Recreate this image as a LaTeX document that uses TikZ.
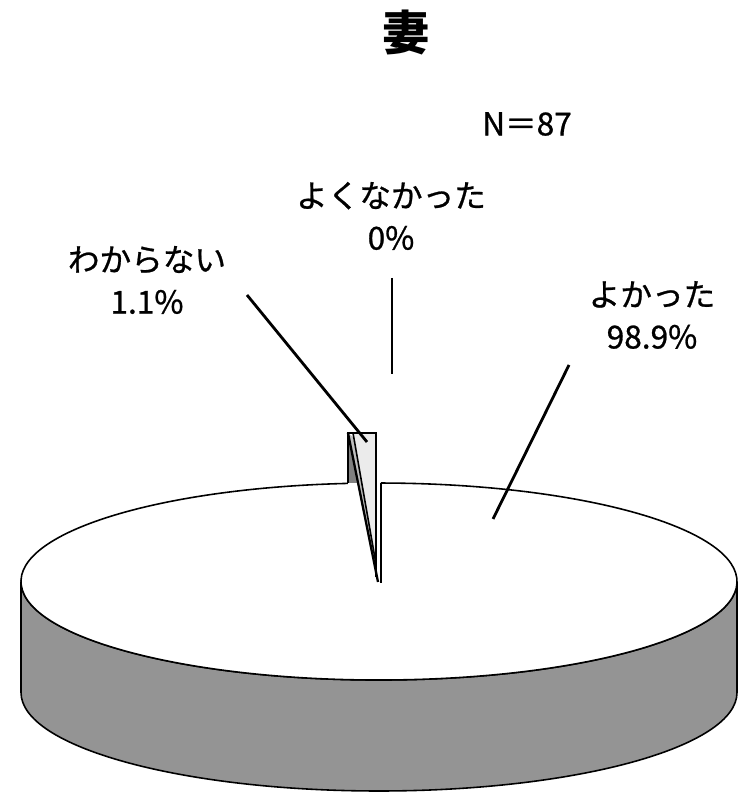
\documentclass[tikz,border=0pt]{standalone}
\usepackage{fontspec}
\setmainfont{Noto Sans CJK JP}
\newfontfamily\labelfont{Noto Sans CJK JP}[FakeBold=0.8]
\tikzset{
  pielabel/.style={align=center, inner sep=0pt, font=\labelfont\fontsize{18}{24}\selectfont},
  leader/.style={line width=1.6pt},
  edge/.style={line width=0.9pt}
}
\begin{document}
\begin{tikzpicture}[x=0.02cm, y=0.02cm]
% picture frame in pixels
\useasboundingbox (0,0) rectangle (745,794);
\def\rx{358}
\def\ry{98.5}
\coordinate (C) at (379,212.5);

% side of the pie
\filldraw[edge, fill=black!42] (21,212.5) -- (21,101.5)
  arc[start angle=180, end angle=360, x radius=\rx, y radius=\ry]
  -- (737,212.5)
  arc[start angle=0, end angle=-180, x radius=\rx, y radius=\ry] -- cycle;

% top of the pie, open where the small slice is cut out
\fill[white] (C) ellipse [x radius=\rx, y radius=\ry];
\draw[edge] (347.8,310.6) arc[start angle=95, end angle=449.7, x radius=\rx, y radius=\ry];

% the small slice (wakaranai)
\fill[black!50] (348,361) -- (348,311) -- (358,311) -- cycle;
\fill[black!25] (348,361) -- (378,212) -- (376,230) -- (353,357) -- cycle;
\filldraw[edge, fill=black!8] (353,361) -- (376,361) -- (376,230) -- cycle;
\draw[edge] (348,311) -- (348,361) -- (376,361) -- (376,217);
\draw[line width=1.3pt] (348,361) -- (378,212);
\draw[edge] (381,311) -- (381,211);

% labels
\node (title) at (406,761) {\fontsize{27}{30}\selectfont\bfseries 妻};
\node[pielabel] (total) at (527,670) {N＝87};
\node[pielabel] (bad) at (391,578) {よくなかった\\0\%};
\node[pielabel] (unknown) at (147,514) {わからない\\1.1\%};
\node[pielabel] (good) at (652,479) {よかった\\98.9\%};

% leader lines
\coordinate (unknownA) at (247,499);
\coordinate (unknownB) at (367,352);
\coordinate (badA) at (392,516);
\coordinate (badB) at (392,420);
\coordinate (goodA) at (569,429);
\coordinate (goodB) at (493,275);
\draw[leader] (unknownA) -- (unknownB);
\draw[leader] (badA) -- (badB);
\draw[leader] (goodA) -- (goodB);
\end{tikzpicture}
\end{document}
